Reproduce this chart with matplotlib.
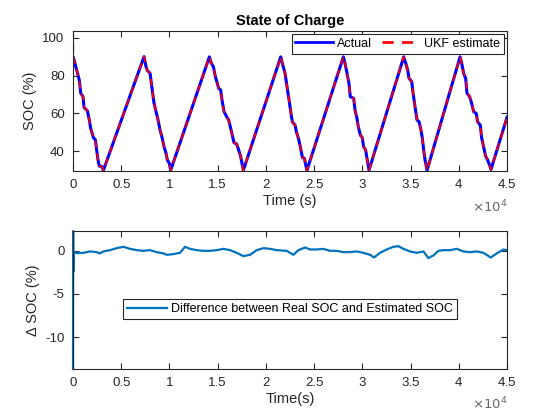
import numpy as np
import matplotlib
matplotlib.use("Agg")
import matplotlib.pyplot as plt

# SOC of the real cell (time s, SOC %)
soc_t = [0, 40, 380, 650, 800, 1040, 1140, 1490, 1690, 1830, 2110, 2320, 2450, 2590, 2730, 3010, 3145,
         7362, 7570, 7710, 7990, 8120, 8260, 8400, 8610, 8820, 9020, 9230, 9440, 9650, 9780, 9990, 10127,
         14137, 14340, 14550, 14760, 14960, 15100, 15310, 15450, 15660, 15930, 16140, 16350, 16550, 16690,
         16970, 17180, 17390, 17520, 17662,
         21537, 21760, 21983, 22190, 22400, 22600, 22740, 23020, 23160, 23370, 23570, 23780, 23990, 24130, 24260,
         28030, 28200, 28410, 28610, 28750, 29100, 29240, 29440, 29580, 29790, 29990, 30130, 30340, 30480, 30690,
         34290, 34500, 34700, 34840, 35120, 35260, 35460, 35670, 35880, 36080, 36220, 36360, 36500, 36710,
         40130, 40300, 40500, 40710, 40850, 41120, 41330, 41540, 41810, 41950, 42230, 42360, 42570, 42780,
         42990, 43190, 43340, 45000]
soc_v = [89.8, 89.6, 83.0, 77.7, 70.7, 68.9, 63.2, 61.4, 56.5, 52.1, 47.3, 45.9, 40.6, 35.3, 32.1, 31.8, 29.8,
         90.1, 84.8, 82.7, 81.3, 76.0, 70.7, 65.4, 60.9, 56.5, 51.2, 47.3, 42.3, 38.8, 35.3, 33.5, 29.9,
         90.0, 86.6, 84.8, 79.5, 76.0, 73.3, 72.4, 67.1, 60.9, 58.3, 56.5, 52.1, 47.6, 44.5,
         43.8, 40.6, 37.0, 33.5, 29.9,
         90.0, 85.5, 81.3, 74.2, 67.1, 60.0, 55.6, 53.8, 50.3, 46.8, 42.3, 36.7, 36.2, 32.6, 29.9,
         90.0, 86.6, 81.3, 76.0, 68.9, 68.0, 61.8, 57.4, 53.0, 48.5, 47.3, 42.3, 40.6, 36.2, 29.9,
         90.0, 86.6, 83.0, 78.6, 76.9, 70.7, 63.6, 56.5, 55.6, 51.2, 46.8, 40.6, 35.3, 29.9,
         90.0, 86.6, 81.3, 78.6, 70.7, 68.9, 65.4, 60.9, 60.0, 55.6, 53.8, 47.3, 42.3, 37.4,
         35.3, 32.6, 30.3, 58.0]

# UKF estimate: starts high, then sits on top of the real SOC
est_start = 103.5

# Real SOC - estimated SOC (bottom panel)
diff_t = [0, 10, 25, 60, 380, 1071, 1763, 2454, 2800, 3146, 3837, 4528, 4874, 5220, 5911, 6602, 7294,
          7985, 8676, 9368, 9713, 10405, 11096, 11614, 12133, 12824, 13516, 14207, 14898, 15590, 16281,
          16972, 17664, 18355, 19046, 19738, 20429, 21120, 22157, 22848, 23367, 24058, 24577, 25268,
          25960, 26651, 27342, 28034, 28725, 29416, 30108, 30799, 31214, 31836, 32527, 33218, 33737,
          34256, 34947, 35638, 36330, 36848, 37367, 37886, 38404, 39095, 39786, 40478, 41169, 41860,
          42552, 43312, 43934, 44625, 44970]
diff_v = [-13.7, 2.3, -2.4, -0.1, -0.27, -0.23, -0.07, -0.15, -0.30, -0.07, 0.08, 0.31, 0.39, 0.47,
          0.23, 0.08, 0.00, 0.08, -0.15, -0.30, -0.46, -0.38, -0.23, 0.47, 0.23, 0.08, 0.00, 0.00, 0.08,
          0.23, 0.08, -0.23, -0.61, -0.46, 0.08, 0.31, 0.23, 0.08, 0.00, -0.46, 0.08, 0.39, 0.16, 0.16,
          0.23, 0.00, 0.00, -0.15, -0.15, -0.07, -0.23, -0.46, -0.77, -0.23, 0.16, 0.47, 0.54, 0.23,
          -0.07, -0.23, -0.07, -0.84, -0.53, 0.00, 0.08, 0.08, 0.23, -0.07, -0.15, -0.07, -0.23, -0.77,
          -0.30, 0.16, 0.08]

x_ticks = [0, 5000, 10000, 15000, 20000, 25000, 30000, 35000, 40000, 45000]
x_ticklabels = ["0", "0.5", "1", "1.5", "2", "2.5", "3", "3.5", "4", "4.5"]

plt.rcParams["font.family"] = ["Liberation Sans", "DejaVu Sans"]
plt.rcParams["axes.unicode_minus"] = False
ax_color = (0.15, 0.15, 0.15)


def style_axes(ax):
    for s in ax.spines.values():
        s.set_color(ax_color)
        s.set_linewidth(0.8)
    ax.tick_params(direction="in", length=4, width=0.8, top=True, right=True,
                   colors=ax_color, labelsize=9.5, pad=6)
    ax.set_xlim(0, 45000)
    ax.set_xticks(x_ticks)
    ax.set_xticklabels(x_ticklabels)
    ax.text(1.0, -0.255, r"$\times10^{4}$", transform=ax.transAxes, ha="right", va="center",
            fontsize=9.5, color=(0.4, 0.4, 0.4))


fig = plt.figure(figsize=(5.6, 4.2), dpi=100)
ax1 = fig.add_axes([0.1304, 0.5929, 0.775, 0.3333])
ax2 = fig.add_axes([0.1304, 0.1214, 0.775, 0.3286])

# top: SOC
est_t = [0] + soc_t[1:]
est_v = [est_start] + soc_v[1:]
ax1.plot(soc_t, soc_v, color="blue", lw=2.2, label="Actual")
ax1.plot(est_t, est_v, color="red", lw=1.3, ls=(0, (4, 3)), label="UKF estimate")
ax1.set_ylim(29.5, 103.7)
ax1.set_yticks([40, 60, 80, 100])
style_axes(ax1)
ax1.set_xlabel("Time (s)", fontsize=10.5, color=ax_color, labelpad=2)
ax1.set_ylabel("SOC (%)", fontsize=10.5, color=ax_color, labelpad=4)
ax1.set_title("State of Charge", fontsize=10.5, fontweight="bold", color="black", pad=4)
leg = ax1.legend(loc="upper right", ncol=2, fontsize=9, handlelength=3.0, handletextpad=0.35,
                 columnspacing=0.8, borderpad=0.3, borderaxespad=0.25, fancybox=False,
                 framealpha=1, edgecolor=ax_color)
leg.get_frame().set_linewidth(0.8)
for h in leg.get_lines():
    h.set_linewidth(2.0)

# bottom: difference
ax2.plot(diff_t, diff_v, color="#0072BD", lw=1.6, clip_on=False,
         label="Difference between Real SOC and Estimated SOC")
ax2.set_ylim(-13.7, 2.3)
ax2.set_yticks([-10, -5, 0])
style_axes(ax2)
ax2.set_xlabel("Time(s)", fontsize=10.5, color=ax_color, labelpad=2)
ax2.set_ylabel("\u0394 SOC (%)", fontsize=10.5, color=ax_color, labelpad=4)
leg2 = ax2.legend(loc="center", bbox_to_anchor=(0.5, 0.435), fontsize=9, handlelength=3.2,
                  handletextpad=0.3, borderpad=0.3, fancybox=False, framealpha=1,
                  edgecolor=ax_color)
leg2.get_frame().set_linewidth(0.8)

fig.savefig("out.png", dpi=100)
